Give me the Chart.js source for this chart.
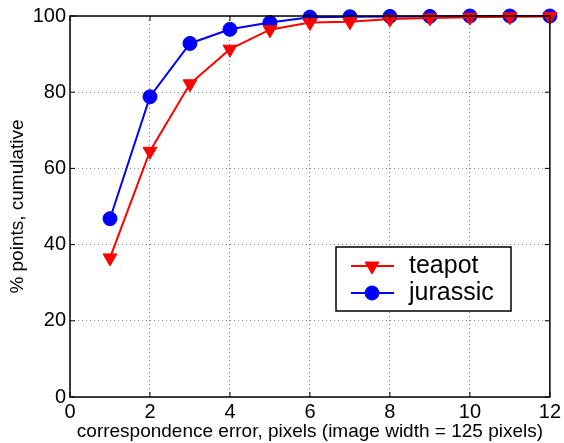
<!DOCTYPE html>
<html lang="en">
<head>
    <meta charset="UTF-8">
    <title>Correspondence error</title>
    <script src="https://cdn.jsdelivr.net/npm/chart.js@4/dist/chart.umd.min.js"></script>
    <style>
        html, body { margin: 0; padding: 0; background: #fff; }
        #wrap { width: 564px; height: 443px; }
    </style>
</head>
<body>
<div id="wrap"><canvas id="chart"></canvas></div>
<script>
    // data
    const errorPixels = [1, 2, 3, 4, 5, 6, 7, 8, 9, 10, 11, 12];
    const teapot   = [36.5, 64.5, 82.2, 91.3, 96.4, 98.3, 98.5, 99.2, 99.5, 99.7, 99.8, 99.9];
    const jurassic = [46.8, 78.8, 92.8, 96.5, 98.3, 99.7, 99.8, 99.9, 99.9, 100, 100, 100];
    const xTicks = [0, 2, 4, 6, 8, 10, 12];
    const yTicks = [0, 20, 40, 60, 80, 100];

    const FONT = 'Liberation Sans, Arial, Helvetica, sans-serif';

    // box round the plot, small inward ticks, legend inside (matlab look)
    const framePlugin = {
        id: 'frame',
        afterDraw(chart) {
            const ctx = chart.ctx;
            const a = chart.chartArea;
            const sx = chart.scales.x, sy = chart.scales.y;
            ctx.save();
            ctx.strokeStyle = '#000';
            ctx.lineWidth = 1.5;
            ctx.strokeRect(a.left, a.top, a.right - a.left, a.bottom - a.top);
            ctx.lineWidth = 1;
            ctx.beginPath();
            xTicks.forEach(v => {
                const px = sx.getPixelForValue(v);
                ctx.moveTo(px, a.bottom); ctx.lineTo(px, a.bottom - 5);
                ctx.moveTo(px, a.top); ctx.lineTo(px, a.top + 5);
            });
            yTicks.forEach(v => {
                const py = sy.getPixelForValue(v);
                ctx.moveTo(a.left, py); ctx.lineTo(a.left + 5, py);
                ctx.moveTo(a.right, py); ctx.lineTo(a.right - 5, py);
            });
            ctx.stroke();

            // legend box
            const bx = 336, by = 247, bw = 175, bh = 64;
            ctx.lineWidth = 1.5;
            ctx.fillStyle = '#fff';
            ctx.fillRect(bx, by, bw, bh);
            ctx.strokeRect(bx, by, bw, bh);
            chart.data.datasets.forEach((ds, i) => {
                const y = by + 19 + i * 27;
                ctx.strokeStyle = ds.borderColor;
                ctx.fillStyle = ds.backgroundColor;
                ctx.lineWidth = 2;
                ctx.beginPath();
                ctx.moveTo(bx + 15, y);
                ctx.lineTo(bx + 58, y);
                ctx.stroke();
                ctx.lineWidth = 1;
                Chart.helpers.drawPoint(ctx, {
                    pointStyle: ds.pointStyle,
                    rotation: ds.pointRotation || 0,
                    radius: ds.pointRadius,
                    borderWidth: 1
                }, bx + 36, y);
                ctx.fillStyle = '#000';
                ctx.font = '25px ' + FONT;
                ctx.textBaseline = 'middle';
                ctx.textAlign = 'left';
                ctx.fillText(ds.label, bx + 73, y);
            });
            ctx.restore();
        }
    };

    new Chart(document.getElementById('chart'), {
        type: 'line',
        data: {
            datasets: [{
                label: 'teapot',
                data: errorPixels.map((x, i) => ({ x: x, y: teapot[i] })),
                borderColor: 'rgb(255, 0, 0)',
                backgroundColor: 'rgb(255, 0, 0)',
                borderWidth: 2,
                pointStyle: 'triangle',
                pointRotation: 180,
                pointRadius: 8,
                pointBorderWidth: 1
            }, {
                label: 'jurassic',
                data: errorPixels.map((x, i) => ({ x: x, y: jurassic[i] })),
                borderColor: 'rgb(0, 0, 255)',
                backgroundColor: 'rgb(0, 0, 255)',
                borderWidth: 2,
                pointStyle: 'circle',
                pointRadius: 7,
                pointBorderWidth: 1
            }]
        },
        options: {
            responsive: true,
            maintainAspectRatio: false,
            animation: false,
            clip: false,
            layout: { padding: { left: 0, right: 10, top: 16, bottom: 0 } },
            plugins: { legend: { display: false }, tooltip: { enabled: false } },
            scales: {
                x: {
                    type: 'linear',
                    min: 0, max: 12,
                    afterBuildTicks: s => { s.ticks = xTicks.map(v => ({ value: v })); },
                    afterFit: s => { s.height = 46; },
                    grid: { color: '#888', lineWidth: 1, drawTicks: false },
                    border: { display: false, dash: [1, 3] },
                    ticks: { color: '#000', padding: 3, font: { family: FONT, size: 20 }, maxRotation: 0 },
                    title: {
                        display: true,
                        text: 'correspondence error, pixels (image width = 125 pixels)',
                        color: '#000',
                        font: { family: FONT, size: 19 },
                        padding: { top: 0, bottom: 0 }
                    }
                },
                y: {
                    min: 0, max: 100,
                    afterBuildTicks: s => { s.ticks = yTicks.map(v => ({ value: v })); },
                    afterFit: s => { s.width = 70; },
                    grid: { color: '#888', lineWidth: 1, drawTicks: false },
                    border: { display: false, dash: [1, 3] },
                    ticks: { color: '#000', padding: 4, font: { family: FONT, size: 20 } },
                    title: {
                        display: true,
                        text: '% points, cumulative',
                        color: '#000',
                        font: { family: FONT, size: 19 },
                        padding: { top: 6, bottom: 0 }
                    }
                }
            }
        },
        plugins: [framePlugin]
    });
</script>
</body>
</html>
